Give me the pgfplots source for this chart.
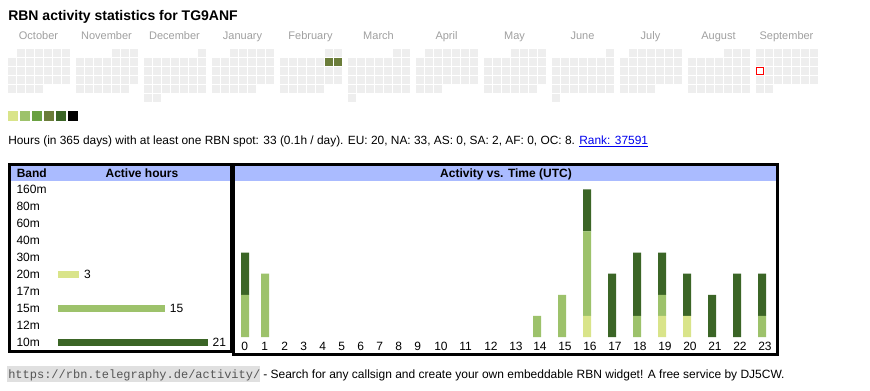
\documentclass[border=0pt]{standalone}
\usepackage{fontspec}
\setmainfont{Liberation Sans}
\setmonofont{Liberation Mono}
\usepackage{pgfplots}
\usepackage{pgfplotstable}
\pgfplotsset{compat=1.18}
\definecolor{levA}{HTML}{D9E48A}
\definecolor{levB}{HTML}{9DC26B}
\definecolor{levC}{HTML}{6AA142}
\definecolor{levD}{HTML}{6B7D3A}
\definecolor{levE}{HTML}{3B6526}
\definecolor{levF}{HTML}{000000}
\definecolor{calgray}{HTML}{EEEEEE}
\definecolor{monthgray}{HTML}{A0A0A0}
\definecolor{hdrblue}{HTML}{AABBFF}
\definecolor{linkblue}{HTML}{0000EE}
\definecolor{footgray}{HTML}{E0E0E0}
\definecolor{footmono}{HTML}{555555}

% calendar days: month index (0 = October), weekday column, week row
\pgfplotstableread[row sep=\\]{
m c r\\
0 2 1\\0 3 1\\0 4 1\\0 5 1\\0 6 1\\0 7 1\\
0 1 2\\0 2 2\\0 3 2\\0 4 2\\0 5 2\\0 6 2\\0 7 2\\
0 1 3\\0 2 3\\0 3 3\\0 4 3\\0 5 3\\0 6 3\\0 7 3\\
0 1 4\\0 2 4\\0 3 4\\0 4 4\\0 5 4\\0 6 4\\0 7 4\\
0 1 5\\0 2 5\\0 3 5\\0 4 5\\
1 5 1\\1 6 1\\1 7 1\\
1 1 2\\1 2 2\\1 3 2\\1 4 2\\1 5 2\\1 6 2\\1 7 2\\
1 1 3\\1 2 3\\1 3 3\\1 4 3\\1 5 3\\1 6 3\\1 7 3\\
1 1 4\\1 2 4\\1 3 4\\1 4 4\\1 5 4\\1 6 4\\1 7 4\\
1 1 5\\1 2 5\\1 3 5\\1 4 5\\1 5 5\\1 6 5\\
2 7 1\\
2 1 2\\2 2 2\\2 3 2\\2 4 2\\2 5 2\\2 6 2\\2 7 2\\
2 1 3\\2 2 3\\2 3 3\\2 4 3\\2 5 3\\2 6 3\\2 7 3\\
2 1 4\\2 2 4\\2 3 4\\2 4 4\\2 5 4\\2 6 4\\2 7 4\\
2 1 5\\2 2 5\\2 3 5\\2 4 5\\2 5 5\\2 6 5\\2 7 5\\
2 1 6\\2 2 6\\
3 3 1\\3 4 1\\3 5 1\\3 6 1\\3 7 1\\
3 1 2\\3 2 2\\3 3 2\\3 4 2\\3 5 2\\3 6 2\\3 7 2\\
3 1 3\\3 2 3\\3 3 3\\3 4 3\\3 5 3\\3 6 3\\3 7 3\\
3 1 4\\3 2 4\\3 3 4\\3 4 4\\3 5 4\\3 6 4\\3 7 4\\
3 1 5\\3 2 5\\3 3 5\\3 4 5\\3 5 5\\
4 6 1\\4 7 1\\
4 1 2\\4 2 2\\4 3 2\\4 4 2\\4 5 2\\4 6 2\\4 7 2\\
4 1 3\\4 2 3\\4 3 3\\4 4 3\\4 5 3\\4 6 3\\4 7 3\\
4 1 4\\4 2 4\\4 3 4\\4 4 4\\4 5 4\\4 6 4\\4 7 4\\
4 1 5\\4 2 5\\4 3 5\\4 4 5\\4 5 5\\
5 6 1\\5 7 1\\
5 1 2\\5 2 2\\5 3 2\\5 4 2\\5 5 2\\5 6 2\\5 7 2\\
5 1 3\\5 2 3\\5 3 3\\5 4 3\\5 5 3\\5 6 3\\5 7 3\\
5 1 4\\5 2 4\\5 3 4\\5 4 4\\5 5 4\\5 6 4\\5 7 4\\
5 1 5\\5 2 5\\5 3 5\\5 4 5\\5 5 5\\5 6 5\\5 7 5\\
5 1 6\\
6 2 1\\6 3 1\\6 4 1\\6 5 1\\6 6 1\\6 7 1\\
6 1 2\\6 2 2\\6 3 2\\6 4 2\\6 5 2\\6 6 2\\6 7 2\\
6 1 3\\6 2 3\\6 3 3\\6 4 3\\6 5 3\\6 6 3\\6 7 3\\
6 1 4\\6 2 4\\6 3 4\\6 4 4\\6 5 4\\6 6 4\\6 7 4\\
6 1 5\\6 2 5\\6 3 5\\
7 4 1\\7 5 1\\7 6 1\\7 7 1\\
7 1 2\\7 2 2\\7 3 2\\7 4 2\\7 5 2\\7 6 2\\7 7 2\\
7 1 3\\7 2 3\\7 3 3\\7 4 3\\7 5 3\\7 6 3\\7 7 3\\
7 1 4\\7 2 4\\7 3 4\\7 4 4\\7 5 4\\7 6 4\\7 7 4\\
7 1 5\\7 2 5\\7 3 5\\7 4 5\\7 5 5\\7 6 5\\
8 7 1\\
8 1 2\\8 2 2\\8 3 2\\8 4 2\\8 5 2\\8 6 2\\8 7 2\\
8 1 3\\8 2 3\\8 3 3\\8 4 3\\8 5 3\\8 6 3\\8 7 3\\
8 1 4\\8 2 4\\8 3 4\\8 4 4\\8 5 4\\8 6 4\\8 7 4\\
8 1 5\\8 2 5\\8 3 5\\8 4 5\\8 5 5\\8 6 5\\8 7 5\\
8 1 6\\
9 2 1\\9 3 1\\9 4 1\\9 5 1\\9 6 1\\9 7 1\\
9 1 2\\9 2 2\\9 3 2\\9 4 2\\9 5 2\\9 6 2\\9 7 2\\
9 1 3\\9 2 3\\9 3 3\\9 4 3\\9 5 3\\9 6 3\\9 7 3\\
9 1 4\\9 2 4\\9 3 4\\9 4 4\\9 5 4\\9 6 4\\9 7 4\\
9 1 5\\9 2 5\\9 3 5\\9 4 5\\
10 5 1\\10 6 1\\10 7 1\\
10 1 2\\10 2 2\\10 3 2\\10 4 2\\10 5 2\\10 6 2\\10 7 2\\
10 1 3\\10 2 3\\10 3 3\\10 4 3\\10 5 3\\10 6 3\\10 7 3\\
10 1 4\\10 2 4\\10 3 4\\10 4 4\\10 5 4\\10 6 4\\10 7 4\\
10 1 5\\10 2 5\\10 3 5\\10 4 5\\10 5 5\\10 6 5\\10 7 5\\
11 1 1\\11 2 1\\11 3 1\\11 4 1\\11 5 1\\11 6 1\\11 7 1\\
11 1 2\\11 2 2\\11 3 2\\11 4 2\\11 5 2\\11 6 2\\11 7 2\\
11 1 3\\11 2 3\\11 3 3\\11 4 3\\11 5 3\\11 6 3\\11 7 3\\
11 1 4\\11 2 4\\11 3 4\\11 4 4\\11 5 4\\11 6 4\\11 7 4\\
11 1 5\\11 2 5\\
}\caldays

\pgfplotstableread[row sep=\\]{
m c r\\
4 6 2\\4 7 2\\
}\activedays

\pgfplotstableread[row sep=\\]{
m c r\\
11 1 3\\
}\today

% hour columns: position, hour, 20m, 15m, 10m
\pgfplotstableread{
pos h b20 b15 b10
245 0 0 2 2
265 1 0 3 0
285 2 0 0 0
304 3 0 0 0
323 4 0 0 0
342 5 0 0 0
361 6 0 0 0
380 7 0 0 0
399 8 0 0 0
418 9 0 0 0
438 10 0 0 0
463 11 0 0 0
488 12 0 0 0
513 13 0 0 0
537 14 0 1 0
562 15 0 2 0
587 16 1 4 2
612 17 0 0 3
637 18 0 1 3
662 19 1 1 2
687 20 1 0 2
712 21 0 0 2
737 22 0 0 3
762 23 0 1 2
}\hours

\begin{document}
\begin{tikzpicture}
\fill[white] (0pt,0pt) rectangle (652.5pt,-292.5pt);

% calendar (pixel coordinates)
\begin{axis}[at={(0pt,0pt)}, anchor=north west, scale only axis,
  width=652.5pt, height=292.5pt, xmin=0, xmax=870, ymin=0, ymax=390,
  y dir=reverse, hide axis, clip=false]
\addplot[only marks, mark=square*, mark size=2.5pt, color=calgray, line width=0.25pt]
  table[x expr={2.5+68*\thisrow{m}+9*\thisrow{c}}, y expr={43.5+9*\thisrow{r}}]{\caldays};
\addplot[only marks, mark=square*, mark size=2.5pt, color=levD, line width=0.25pt]
  table[x expr={2.5+68*\thisrow{m}+9*\thisrow{c}}, y expr={43.5+9*\thisrow{r}}]{\activedays};
\addplot[only marks, mark=square*, mark size=2.625pt, line width=0.75pt, mark options={draw=red, fill=white}]
  table[x expr={2.5+68*\thisrow{m}+9*\thisrow{c}}, y expr={43.5+9*\thisrow{r}}]{\today};
\end{axis}

\begin{scope}[x=0.75pt, y=-0.75pt]
\node[anchor=base west, inner sep=0pt] at (8,20.5) {\fontsize{10.5}{12}\selectfont\bfseries RBN activity statistics for TG9ANF};
\foreach \n [count=\i from 0] in {October,November,December,January,February,March,April,May,June,July,August,September}
  \node[anchor=base, inner sep=0pt, text=monthgray] at ({38.5+68*\i},39) {\fontsize{8.25}{10}\selectfont \n};
\foreach \col [count=\i from 0] in {levA,levB,levC,levD,levE,levF}
  \fill[\col] ({8+12*\i},111) rectangle ({18+12*\i},121);
\node[anchor=base west, inner sep=0pt] at (8,144) {\fontsize{8.93}{11}\selectfont Hours (in 365 days) with at least one RBN spot: 33 (0.1h / day). EU: 20, NA: 33, AS: 0, SA: 2, AF: 0, OC: 8. \textcolor{linkblue}{\underline{Rank: 37591}}};
% table boxes
\fill[hdrblue] (11,166) rectangle (230,181);
\fill[hdrblue] (235,166) rectangle (776,181);
\draw[line width=2.25pt] (9.5,164.5) rectangle (231.5,351.5);
\draw[line width=2.25pt] (233.5,164.5) rectangle (777.5,354.5);
\node[anchor=base west, inner sep=0pt] at (16.5,177) {\fontsize{9}{11}\selectfont\bfseries Band};
\node[anchor=base, inner sep=0pt] at (142,177) {\fontsize{9}{11}\selectfont\bfseries Active hours};
\node[anchor=base, inner sep=0pt] at (506,177) {\fontsize{9}{11}\selectfont\bfseries Activity vs. Time (UTC)};
% footer
\fill[footgray] (7,366) rectangle (260,382);
\node[anchor=base west, inner sep=0pt] at (8,378) {\fontsize{9}{10}\selectfont\ttfamily\color{footmono}https://rbn.telegraphy.de/activity/};
\node[anchor=base west, inner sep=0pt] at (263,378) {\fontsize{9}{10}\selectfont - Search for any callsign and create your own embeddable RBN widget! A free service by DJ5CW.};
\end{scope}

% band chart
\begin{axis}[at={(43.5pt,-135.375pt)}, anchor=north west, scale only axis,
  width=112.5pt, height=128pt, xmin=0, xmax=21, ymin=-0.5, ymax=9.5, y dir=reverse,
  xbar, bar width=5.25pt,
  axis line style={draw=none}, tick style={draw=none}, xtick=\empty,
  ytick={0,1,2,3,4,5,6,7,8,9},
  yticklabels={160m,80m,60m,40m,30m,20m,17m,15m,12m,10m},
  yticklabel style={anchor=west, inner sep=0pt, xshift=-27pt, font=\fontsize{9}{10}\selectfont},
  /pgf/number format/assume math mode=true,
  nodes near coords, nodes near coords style={font=\fontsize{9}{10}\selectfont, anchor=west, text=black},
  clip=false]
\addplot[fill=levA, draw=none, bar shift=0pt] coordinates {(3,5)};
\addplot[fill=levB, draw=none, bar shift=0pt] coordinates {(15,7)};
\addplot[fill=levE, draw=none, bar shift=0pt] coordinates {(21,9)};
\end{axis}

% activity vs time chart
\begin{axis}[at={(177pt,-252.75pt)}, anchor=south west, scale only axis,
  width=405pt, height=117pt, xmin=236, xmax=776, ymin=0, ymax=7.393,
  ybar stacked, bar width=6pt,
  axis line style={draw=none}, tick style={draw=none}, ytick=\empty,
  xtick=data,
  xticklabels={0,1,2,3,4,5,6,7,8,9,10,11,12,13,14,15,16,17,18,19,20,21,22,23},
  xticklabel style={anchor=north west, inner sep=0pt, xshift=-3pt, yshift=-3.75pt, font=\fontsize{9}{10}\selectfont},
  clip=false]
\addplot[fill=levA, draw=none] table[x=pos, y=b20]{\hours};
\addplot[fill=levB, draw=none] table[x=pos, y=b15]{\hours};
\addplot[fill=levE, draw=none] table[x=pos, y=b10]{\hours};
\end{axis}

\pgfresetboundingbox
\path[use as bounding box] (0pt,0pt) rectangle (652.5pt,-292.5pt);
\end{tikzpicture}
\end{document}
